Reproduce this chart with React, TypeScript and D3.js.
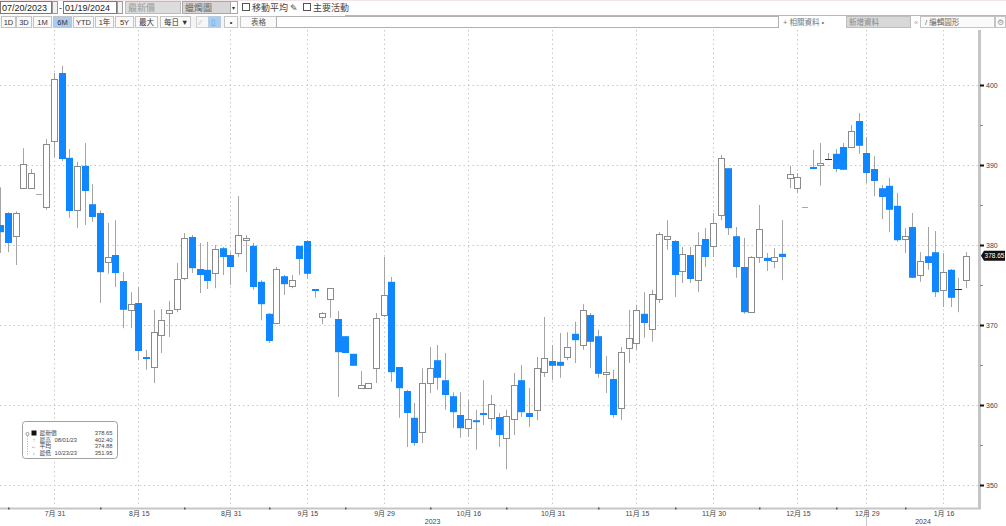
import React from "react";
import * as d3 from "d3";

// ---- DATA ----
const dates: string[] = [
  "07/20","07/21","07/24","07/25","07/26","07/27","07/28","07/31",
  "08/01","08/02","08/03","08/04","08/07","08/08","08/09","08/10","08/11","08/14","08/15","08/16","08/17","08/18","08/21","08/22","08/23","08/24","08/25","08/28","08/29","08/30","08/31",
  "09/01","09/05","09/06","09/07","09/08","09/11","09/12","09/13","09/14","09/15","09/18","09/19","09/20","09/21","09/22","09/25","09/26","09/27","09/28","09/29",
  "10/02","10/03","10/04","10/05","10/06","10/09","10/10","10/11","10/12","10/13","10/16","10/17","10/18","10/19","10/20","10/23","10/24","10/25","10/26","10/27","10/30","10/31",
  "11/01","11/02","11/03","11/06","11/07","11/08","11/09","11/10","11/13","11/14","11/15","11/16","11/17","11/20","11/21","11/22","11/24","11/27","11/28","11/29","11/30",
  "12/01","12/04","12/05","12/06","12/07","12/08","12/11","12/12","12/13","12/14","12/15","12/18","12/19","12/20","12/21","12/22","12/26","12/27","12/28","12/29",
  "01/02","01/03","01/04","01/05","01/08","01/09","01/10","01/11","01/12","01/16","01/17","01/18","01/19",
];

const openValues: number[] = [
  382.5,384.0,381.1,387.1,387.1,386.4,384.75,393.0,401.5,390.9,
  384.4,389.9,385.1,384.0,377.9,378.75,375.5,371.9,372.75,366.0,
  364.75,368.75,371.5,372.0,375.9,381.0,377.0,376.9,376.5,379.6,
  378.75,379.0,380.6,379.9,375.4,371.4,370.25,376.1,374.9,379.9,
  380.5,374.5,371.0,373.25,370.75,368.6,366.4,362.1,362.1,364.6,
  371.25,375.4,364.75,361.75,358.4,356.6,362.75,365.6,363.1,361.1,
  358.75,357.1,358.1,359.0,358.4,358.5,355.9,358.25,363.1,359.0,
  359.4,364.1,365.5,365.4,366.0,368.9,367.5,371.25,368.6,363.9,
  363.25,359.6,367.1,367.75,371.4,369.5,373.25,380.75,380.5,376.75,
  378.75,375.6,380.75,379.9,383.75,389.6,381.1,377.25,371.6,378.5,
  378.4,378.0,378.9,388.4,387.1,384.75,389.75,390.1,390.75,391.4,
  392.25,392.25,395.5,391.5,389.5,387.1,387.4,384.9,380.75,382.25,
  376.25,378.6,379.1,374.4,376.9,374.5,375.6,
];

const highValues: number[] = [
  387.2,384.1,384.2,392.1,389.5,386.4,393.25,401.5,402.4,392.0,
  390.4,392.75,387.6,384.3,382.75,383.1,376.6,374.1,374.75,366.9,
  371.9,372.0,373.0,377.75,381.5,381.25,380.25,380.4,380.0,379.75,
  379.1,386.1,381.25,380.25,375.6,371.5,377.25,376.25,376.25,379.9,
  380.6,374.5,371.6,374.6,371.75,368.6,366.4,364.25,362.75,371.5,
  378.5,376.0,364.75,361.9,360.25,364.6,367.25,367.5,366.5,361.6,
  361.6,360.6,359.4,363.1,361.25,359.0,359.4,364.0,365.0,362.1,
  366.0,371.0,367.5,369.0,369.1,370.4,372.6,371.5,369.4,366.1,
  364.4,367.25,371.9,372.5,374.1,374.4,381.6,383.1,380.6,379.75,
  379.75,381.6,382.1,384.0,391.25,389.6,382.25,380.9,378.6,385.0,
  379.0,379.6,383.1,389.9,389.0,384.75,391.9,392.75,391.5,392.0,
  392.75,395.0,396.5,393.5,391.1,387.5,388.4,386.5,382.1,384.0,
  379.1,382.25,381.75,379.0,377.0,375.9,379.1,
];

const lowValues: number[] = [
  379.0,379.1,377.5,387.0,387.0,386.4,384.4,390.9,390.5,383.4,
  382.1,382.5,382.9,372.75,376.4,374.75,369.6,369.6,365.6,364.4,
  362.75,366.5,368.5,371.6,375.6,376.5,374.0,374.5,374.6,376.25,
  375.0,378.5,376.6,374.4,370.6,367.75,370.25,373.75,374.6,376.25,
  375.75,373.4,370.1,370.9,361.0,366.5,364.9,362.1,362.1,362.75,
  371.0,362.9,358.4,354.75,354.9,355.25,361.5,361.9,359.4,357.1,
  355.9,356.0,354.4,357.5,356.9,354.75,351.95,356.25,358.5,357.25,
  358.1,363.5,363.1,363.4,365.6,365.25,366.9,364.6,363.4,361.5,
  358.4,358.1,365.25,366.9,368.4,367.9,372.75,379.4,373.5,375.25,
  375.25,374.1,377.25,378.5,383.1,381.25,375.9,371.4,371.5,377.75,
  376.75,377.1,375.6,387.1,386.5,384.75,389.5,387.4,390.6,389.1,
  389.4,392.1,391.4,387.75,386.1,383.25,381.6,380.4,379.0,375.9,
  375.4,376.9,373.5,372.25,372.25,371.6,374.6,
];

const closeValues: number[] = [
  381.6,380.25,384.0,390.1,389.0,386.4,392.6,400.75,390.75,384.25,
  389.9,386.75,383.5,376.6,378.5,376.5,371.9,372.6,366.75,365.75,
  369.1,370.6,371.9,375.75,380.9,377.1,376.25,375.5,379.5,378.5,
  377.25,381.25,380.9,374.75,372.6,368.0,377.0,375.1,375.6,378.25,
  376.4,374.25,371.5,374.6,366.6,366.5,364.9,362.5,362.75,370.9,
  373.75,364.1,362.1,359.0,355.25,362.75,364.6,363.4,361.25,359.1,
  357.1,358.25,357.9,358.75,360.1,356.25,358.6,362.5,359.1,358.5,
  364.6,365.9,364.9,364.9,367.25,368.1,371.9,367.9,363.9,364.1,
  358.75,366.6,368.4,371.9,370.25,373.9,381.4,381.1,376.25,378.9,
  375.75,380.0,378.5,382.75,390.9,382.1,377.25,371.6,378.5,382.0,
  378.0,378.5,378.5,388.9,388.5,384.75,389.5,390.25,390.75,389.5,
  389.4,394.25,392.4,389.0,388.0,386.0,384.4,380.6,381.1,375.9,
  378.0,377.75,374.1,376.6,373.4,374.5,378.65,
];

const tickDates: string[] = ["07/31","08/15","08/31","09/15","09/29","10/16","10/31","11/15","11/30","12/15","12/29","01/16"];
const tickLabels: string[] = ["7月 31","8月 15","8月 31","9月 15","9月 29","10月 16","10月 31","11月 15","11月 30","12月 15","12月 29","1月 16"];
const minorTickDates: string[] = ["07/21","08/08","08/23","09/08","09/22","10/09","10/23","11/08","11/22","12/08","12/22","01/08"];
const yearLabels: string[] = ["2023","2024"];
const yearLabelDates: string[] = ["10/09","01/10"];
const yearDividerDate = "12/29";
const yTicks: number[] = [350, 360, 370, 380, 390, 400];
const yMinorTicks: number[] = [355, 365, 375, 385, 395];
const lastPrice = 378.65;
const legendNames: string[] = ["最新價", "最高", "平均", "最低"];
const legendDates: string[] = ["", "08/01/23", "", "10/23/23"];
const legendValues: string[] = ["378.65", "402.40", "374.88", "351.95"];
const legendSymbols: string[] = ["", "↑", "←", "↓"];

const rangeButtons: string[] = ["1D", "3D", "1M", "6M", "YTD", "1年", "5Y", "最大"];

const FONT = "'Liberation Sans', Arial, 'Noto Sans CJK TC', sans-serif";
const BLUE = "#1087ff";

export default function App() {
  const x = d3.scalePoint<string>().domain(dates).range([0.35, 966]);
  const y = d3.scaleLinear().domain([350, 400]).range([485, 85]);
  const plotRight = 978;
  const axisY = 508;
  const top = 30;

  const candles = dates.map((d, i) => ({
    d, o: openValues[i], h: highValues[i], l: lowValues[i], c: closeValues[i],
  }));

  const rowBtnX = [1, 16, 33, 53, 73, 95, 115, 135];
  const rowBtnW = [14, 15, 18, 18, 20, 18, 18, 22];

  const legendRowY = [435, 441.5, 448, 454.5];

  return (
    <svg
      width={1006}
      height={526}
      style={{ position: "absolute", left: 0, top: 0, background: "#fff" }}
      fontFamily={FONT}
    >
      <rect x={0} y={0} width={1006} height={526} fill="#fff" />

      {/* ---- Toolbar row 1 ---- */}
      <g fontSize={9}>
        <rect x={0.5} y={1.5} width={51} height={12} fill="#fff" stroke="#7a7a7a" />
        <text x={2} y={11} fill="#222">07/20/2023</text>
        <rect x={52.5} y={1.5} width={5} height={12} fill="#f2f2f2" stroke="#9a9a9a" />
        <text x={59} y={11} fill="#333">-</text>
        <rect x={63.5} y={1.5} width={53} height={12} fill="#fff" stroke="#7a7a7a" />
        <text x={65} y={11} fill="#222">01/19/2024</text>
        <rect x={117.5} y={1.5} width={5} height={12} fill="#f2f2f2" stroke="#9a9a9a" />
        <rect x={125.5} y={1.5} width={55} height={12} fill="#dcdcdc" stroke="#bcbcbc" />
        <text x={128} y={11} fill="#9a9a9a">最新價</text>
        <rect x={182.5} y={1.5} width={48} height={12} fill="#d6d6d6" stroke="#a8a8a8" />
        <text x={185} y={11} fill="#666">蠟燭圖</text>
        <rect x={230.5} y={1.5} width={7} height={12} fill="#fff" stroke="#a8a8a8" />
        <text x={232} y={10} fontSize={6} fill="#333">▾</text>
        <rect x={242.5} y={3.5} width={7} height={7} fill="#fff" stroke="#555" />
        <text x={252} y={11} fill="#444">移動平均</text>
        <text x={290} y={11} fill="#444">✎</text>
        <rect x={303.5} y={3.5} width={7} height={7} fill="#fff" stroke="#555" />
        <text x={313} y={11} fill="#444">主要活動</text>
        <line x1={0} y1={0.5} x2={1006} y2={0.5} stroke="#f3e4e8" />
        <line x1={345} y1={15.5} x2={1006} y2={15.5} stroke="#b8b8b8" />
      </g>

      {/* ---- Toolbar row 2 ---- */}
      <g fontSize={7.5}>
        <rect x={0} y={16} width={278} height={12} fill="#f4f4f4" />
        {rangeButtons.map((b, i) => (
          <g key={b}>
            <rect
              x={rowBtnX[i] + 0.5}
              y={16.5}
              width={rowBtnW[i]}
              height={11}
              fill={b === "6M" ? "#a9cdf0" : "#fafafa"}
              stroke="#c4c4c4"
            />
            <text x={rowBtnX[i] + rowBtnW[i] / 2 + 0.5} y={25} textAnchor="middle" fill="#333">{b}</text>
          </g>
        ))}
        <rect x={160.5} y={16.5} width={30} height={11} fill="#fafafa" stroke="#c4c4c4" />
        <text x={164} y={25} fill="#333">每日 ▼</text>
        <rect x={196.5} y={16.5} width={12} height={11} fill="#f7f7f7" stroke="#d0d0d0" />
        <text x={199} y={25} fill="#c8c8c8">⁄⁄</text>
        <rect x={208.5} y={16.5} width={12} height={11} fill="#a9cdf0" stroke="#b4cce4" />
        <text x={211} y={25} fill="#6f9fd0">▯</text>
        <rect x={224.5} y={16.5} width={13} height={11} fill="#fafafa" stroke="#c4c4c4" />
        <text x={231} y={25} textAnchor="middle" fill="#333">•</text>
        <rect x={240.5} y={16.5} width={36} height={11} fill="#fafafa" stroke="#c4c4c4" />
        <text x={258.5} y={25} textAnchor="middle" fill="#555">表格</text>
        <rect x={276.5} y={16.5} width={502} height={11} fill="#fff" stroke="#b0b0b0" />
        <text x={783} y={25} fill="#777">+ 相關資料 •</text>
        <rect x={846.5} y={16.5} width={64} height={11} fill="#d8d8d8" stroke="#bdbdbd" />
        <text x={849} y={25} fill="#8a8a8a">新增資料</text>
        <text x={914} y={25} fill="#aaa">«</text>
        <rect x={920.5} y={16.5} width={74} height={11} fill="#fafafa" stroke="#c4c4c4" />
        <text x={925} y={25} fill="#666">/ 編輯圖形</text>
        <rect x={995.5} y={16.5} width={10} height={11} fill="#fafafa" stroke="#c4c4c4" />
        <text x={997} y={25} fill="#999">⚙</text>
      </g>

      {/* ---- Grid ---- */}
      <g stroke="#c9c9c9" strokeWidth={1} strokeDasharray="1.5 3">
        {yTicks.map((t) => (
          <line key={"h" + t} x1={0} x2={plotRight} y1={Math.round(y(t)) + 0.5} y2={Math.round(y(t)) + 0.5} />
        ))}
        {tickDates.map((d) => (
          <line key={"v" + d} x1={Math.round(x(d)!) + 0.5} x2={Math.round(x(d)!) + 0.5} y1={top} y2={axisY - 1} />
        ))}
      </g>

      {/* ---- Candles ---- */}
      <g>
        {candles.map((k) => {
          const cx = Math.round(x(k.d)!);
          const flat = k.h === k.l;
          const up = k.c > k.o;
          const doji = k.c === k.o;
          const yTop = y(Math.max(k.o, k.c));
          const yBot = y(Math.min(k.o, k.c));
          if (flat) {
            return (
              <line key={k.d} x1={cx - 3} x2={cx + 3} y1={Math.round(y(k.c)) + 0.5} y2={Math.round(y(k.c)) + 0.5} stroke="#a8a8a8" strokeWidth={1} />
            );
          }
          return (
            <g key={k.d}>
              <line x1={cx + 0.5} x2={cx + 0.5} y1={y(k.h)} y2={y(k.l)} stroke="#a4a4a4" strokeWidth={1} />
              {doji ? (
                <line x1={cx - 3} x2={cx + 4} y1={Math.round(yTop) + 0.5} y2={Math.round(yTop) + 0.5} stroke="#333" strokeWidth={1} />
              ) : up ? (
                <rect x={cx - 2.5} y={Math.round(yTop) + 0.5} width={6} height={Math.max(2, Math.round(yBot - yTop))} fill="#fff" stroke="#8a8a8a" strokeWidth={1} />
              ) : (
                <rect x={cx - 3} y={yTop} width={7} height={Math.max(2, yBot - yTop)} fill={BLUE} />
              )}
            </g>
          );
        })}
      </g>

      {/* ---- Legend box ---- */}
      <g fontSize={5.8} fill="#444">
        <rect x={22.5} y={421.5} width={95} height={37} rx={3} fill="#fff" stroke="#a0a0a0" />
        <circle cx={27.5} cy={434} r={1.6} fill="none" stroke="#888" strokeWidth={0.8} />
        <line x1={27.5} x2={27.5} y1={436} y2={456} stroke="#aaa" strokeDasharray="1 1.5" />
        <rect x={31.5} y={430.5} width={5} height={5} fill="#111" />
        {legendNames.map((n, i) => (
          <g key={n}>
            <text x={33.8} y={legendRowY[i]} fontSize={5.5} fill="#666" textAnchor="middle">{legendSymbols[i]}</text>
            <text x={39.5} y={legendRowY[i]}>{n}</text>
            <text x={54.5} y={legendRowY[i]}>{legendDates[i]}</text>
            <text x={112.5} y={legendRowY[i]} textAnchor="end">{legendValues[i]}</text>
          </g>
        ))}
      </g>

      {/* ---- Right axis ---- */}
      <line x1={979.5} x2={979.5} y1={top} y2={axisY + 1} stroke="#c6c6c6" strokeWidth={3} />
      {yMinorTicks.map((t) => (
        <line key={"ym" + t} x1={980} x2={983} y1={Math.round(y(t)) + 0.5} y2={Math.round(y(t)) + 0.5} stroke="#888" />
      ))}
      {yTicks.map((t) => (
        <g key={"yt" + t}>
          <rect x={980} y={Math.round(y(t)) - 0.5} width={4} height={2} fill="#111" />
          <text x={986} y={y(t) + 2.5} fontSize={7} fill="#444">{t}</text>
        </g>
      ))}
      {/* last price tag */}
      <path
        d={`M981,${y(lastPrice)} L984,${y(lastPrice) - 5} L1005,${y(lastPrice) - 5} L1005,${y(lastPrice) + 5} L984,${y(lastPrice) + 5} Z`}
        fill="#111"
      />
      <text x={994.5} y={y(lastPrice) + 2.4} fontSize={6.5} fill="#fff" textAnchor="middle">{lastPrice.toFixed(2)}</text>

      {/* ---- Bottom axis ---- */}
      <line x1={0} x2={981} y1={axisY + 0.5} y2={axisY + 0.5} stroke="#c6c6c6" strokeWidth={2} />
      {minorTickDates.map((d) => (
        <rect key={"mt" + d} x={Math.round(x(d)!)} y={axisY - 0.5} width={1.5} height={2} fill="#555" />
      ))}
      <line
        x1={Math.round(x(yearDividerDate)!) + 0.5}
        x2={Math.round(x(yearDividerDate)!) + 0.5}
        y1={axisY + 1}
        y2={526}
        stroke="#c8c8c8"
      />
      {tickDates.map((d, i) => (
        <text key={"xl" + d} x={x(d)! + 1} y={516} fontSize={7} fill="#444" textAnchor="middle">{tickLabels[i]}</text>
      ))}
      {yearLabels.map((l, i) => (
        <text key={l} x={x(yearLabelDates[i])! + 3} y={524} fontSize={7} fill="#444" textAnchor="middle">{l}</text>
      ))}
    </svg>
  );
}
